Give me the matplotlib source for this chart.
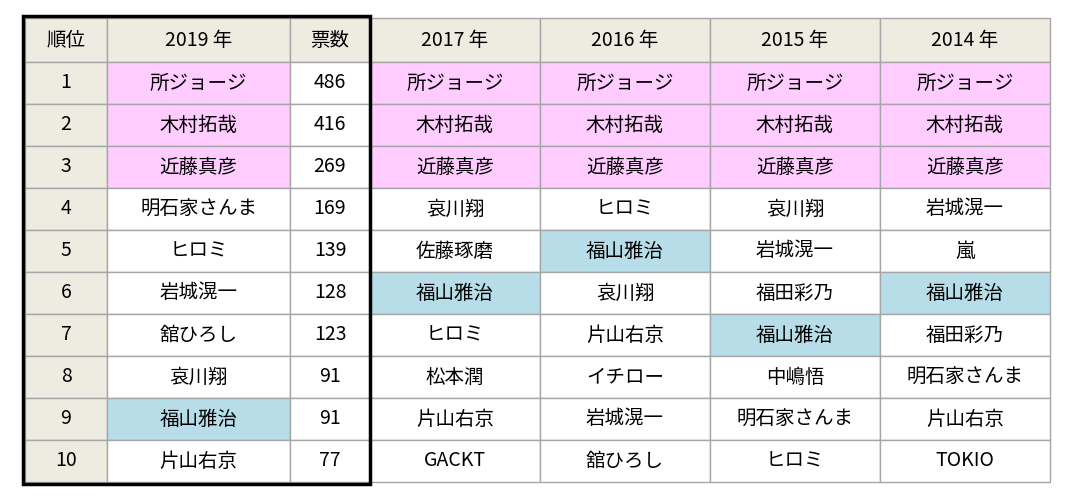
import matplotlib
matplotlib.use("Agg")
import matplotlib.pyplot as plt
from matplotlib.patches import Rectangle

plt.rcParams['font.family'] = ['Noto Sans CJK JP', 'DejaVu Sans']

# data
ranks = [str(i) for i in range(1, 11)]
names_2019 = ["所ジョージ", "木村拓哉", "近藤真彦", "明石家さんま", "ヒロミ", "岩城滉一",
              "舘ひろし", "哀川翔", "福山雅治", "片山右京"]
votes_2019 = [486, 416, 269, 169, 139, 128, 123, 91, 91, 77]
names_2017 = ["所ジョージ", "木村拓哉", "近藤真彦", "哀川翔", "佐藤琢磨", "福山雅治",
              "ヒロミ", "松本潤", "片山右京", "GACKT"]
names_2016 = ["所ジョージ", "木村拓哉", "近藤真彦", "ヒロミ", "福山雅治", "哀川翔",
              "片山右京", "イチロー", "岩城滉一", "舘ひろし"]
names_2015 = ["所ジョージ", "木村拓哉", "近藤真彦", "哀川翔", "岩城滉一", "福田彩乃",
              "福山雅治", "中嶋悟", "明石家さんま", "ヒロミ"]
names_2014 = ["所ジョージ", "木村拓哉", "近藤真彦", "岩城滉一", "嵐", "福山雅治",
              "福田彩乃", "明石家さんま", "片山右京", "TOKIO"]
headers = ["順位", "2019 年", "票数", "2017 年", "2016 年", "2015 年", "2014 年"]
pink_names = ["所ジョージ", "木村拓哉", "近藤真彦"]
blue_names = ["福山雅治"]

HEAD = "#EEECE1"
PINK = "#FFCCFF"
BLUE = "#B7DEE8"

col_x = [25, 107, 290, 370, 540, 710, 880, 1050]
row_y = [18, 62] + [62 + 42 * (i + 1) for i in range(10)]

fig = plt.figure(figsize=(10.65, 4.97), dpi=100)
ax = fig.add_axes([0, 0, 1, 1])
ax.set_xlim(0, 1065)
ax.set_ylim(497, 0)
ax.axis("off")

columns = [ranks, names_2019, [str(v) for v in votes_2019],
           names_2017, names_2016, names_2015, names_2014]

def cell(c, r, text, bg):
    x0, x1 = col_x[c], col_x[c + 1]
    y0, y1 = row_y[r], row_y[r + 1]
    ax.add_patch(Rectangle((x0, y0), x1 - x0, y1 - y0, facecolor=bg,
                           edgecolor="#A6A6A6", lw=1))
    ax.text((x0 + x1) / 2, (y0 + y1) / 2, text, ha="center", va="center",
            fontsize=14, color="black")

for c, h in enumerate(headers):
    cell(c, 0, h, HEAD)
for c, col in enumerate(columns):
    for r, val in enumerate(col):
        if c == 0:
            bg = HEAD
        elif val in pink_names:
            bg = PINK
        elif val in blue_names:
            bg = BLUE
        else:
            bg = "white"
        cell(c, r + 1, val, bg)

# thick border around 2019 block
ax.add_patch(Rectangle((col_x[0] - 2, row_y[0] - 2), col_x[3] - col_x[0] + 2,
                       row_y[-1] - row_y[0] + 4, fill=False, edgecolor="black", lw=2.5))

fig.savefig("out.png", dpi=100)
